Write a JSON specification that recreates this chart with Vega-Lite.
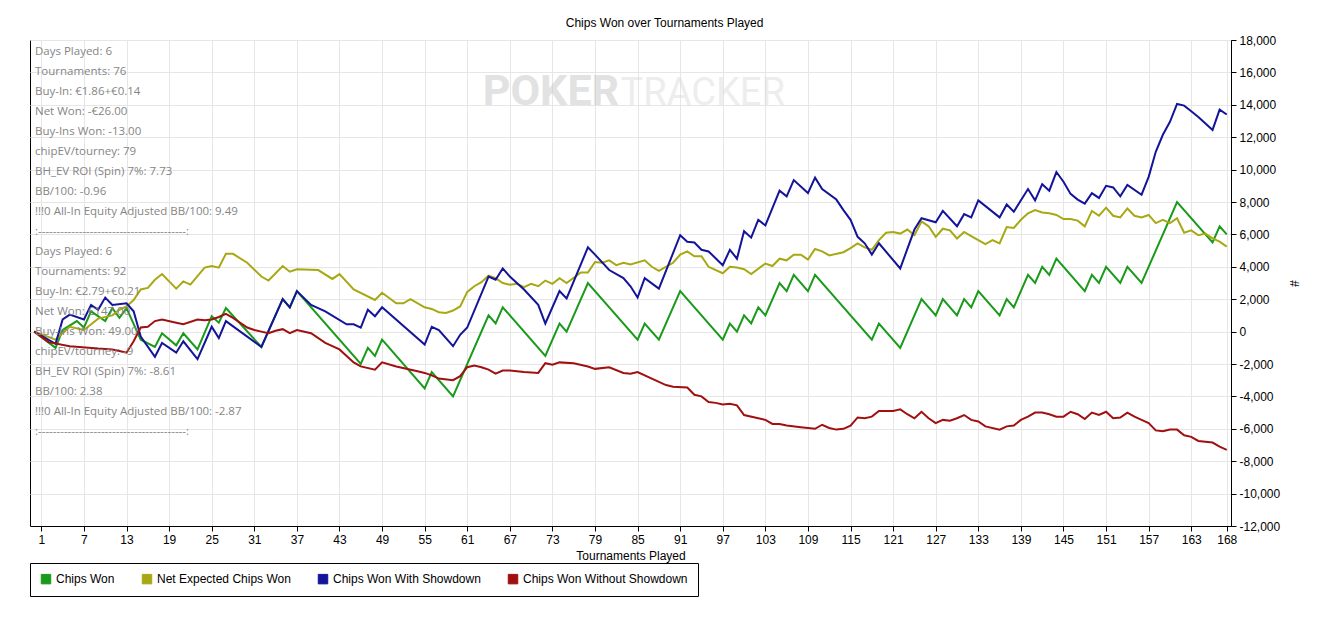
{
  "$schema": "https://vega.github.io/schema/vega-lite/v6.json",
  "title": {"text": "Chips Won over Tournaments Played", "fontSize": 12, "fontWeight": "normal", "font": "Liberation Sans", "color": "black", "frame": "bounds", "offset": 4},
  "width": 1201,
  "height": 486,
  "autosize": "none",
  "padding": {"left": 30, "top": 40, "right": 94, "bottom": 91},
  "background": "white",
  "config": {
    "view": {"stroke": "black", "strokeWidth": 1},
    "axis": {"domainColor": "black", "tickColor": "black", "labelColor": "black", "titleColor": "black", "labelFont": "Liberation Sans", "titleFont": "Liberation Sans", "labelFontSize": 12, "titleFontSize": 12, "titleFontWeight": "normal", "grid": true, "gridColor": "#e6e6e6", "tickSize": 5, "labelOverlap": false, "labelFlush": false}
  },
  "datasets": {
    "brand": [
      {"word": "POKER"},
      {"word": "TRACKER"}
    ],
    "notes": [
      {"line": 1, "text": "Days Played: 6"},
      {"line": 2, "text": "Tournaments: 76"},
      {"line": 3, "text": "Buy-In: €1.86+€0.14"},
      {"line": 4, "text": "Net Won: -€26.00"},
      {"line": 5, "text": "Buy-Ins Won: -13.00"},
      {"line": 6, "text": "chipEV/tourney: 79"},
      {"line": 7, "text": "BH_EV ROI (Spin) 7%: 7.73"},
      {"line": 8, "text": "BB/100: -0.96"},
      {"line": 9, "text": "!!!0 All-In Equity Adjusted BB/100: 9.49"},
      {"line": 10, "text": ":----------------------------------------:"},
      {"line": 11, "text": "Days Played: 6"},
      {"line": 12, "text": "Tournaments: 92"},
      {"line": 13, "text": "Buy-In: €2.79+€0.21"},
      {"line": 14, "text": "Net Won: €147.00"},
      {"line": 15, "text": "Buy-Ins Won: 49.00"},
      {"line": 16, "text": "chipEV/tourney: -9"},
      {"line": 17, "text": "BH_EV ROI (Spin) 7%: -8.61"},
      {"line": 18, "text": "BB/100: 2.38"},
      {"line": 19, "text": "!!!0 All-In Equity Adjusted BB/100: -2.87"},
      {"line": 20, "text": ":----------------------------------------:"}
    ],
    "chips": [
      {"tournament": 0, "series": "Chips Won", "chips": 0},
      {"tournament": 3, "series": "Chips Won", "chips": -1000},
      {"tournament": 4, "series": "Chips Won", "chips": 100},
      {"tournament": 6, "series": "Chips Won", "chips": 650},
      {"tournament": 7, "series": "Chips Won", "chips": 250},
      {"tournament": 8, "series": "Chips Won", "chips": 1250},
      {"tournament": 10, "series": "Chips Won", "chips": 650},
      {"tournament": 11, "series": "Chips Won", "chips": 1450},
      {"tournament": 12, "series": "Chips Won", "chips": 850},
      {"tournament": 13, "series": "Chips Won", "chips": 1450},
      {"tournament": 15, "series": "Chips Won", "chips": -500},
      {"tournament": 17, "series": "Chips Won", "chips": -950},
      {"tournament": 18, "series": "Chips Won", "chips": -100},
      {"tournament": 20, "series": "Chips Won", "chips": -850},
      {"tournament": 21, "series": "Chips Won", "chips": -100},
      {"tournament": 23, "series": "Chips Won", "chips": -1100},
      {"tournament": 25, "series": "Chips Won", "chips": 950},
      {"tournament": 26, "series": "Chips Won", "chips": 550},
      {"tournament": 27, "series": "Chips Won", "chips": 1450},
      {"tournament": 32, "series": "Chips Won", "chips": -950},
      {"tournament": 35, "series": "Chips Won", "chips": 2000},
      {"tournament": 36, "series": "Chips Won", "chips": 1500},
      {"tournament": 37, "series": "Chips Won", "chips": 2500},
      {"tournament": 46, "series": "Chips Won", "chips": -2000},
      {"tournament": 47, "series": "Chips Won", "chips": -1000},
      {"tournament": 48, "series": "Chips Won", "chips": -1500},
      {"tournament": 49, "series": "Chips Won", "chips": -500},
      {"tournament": 55, "series": "Chips Won", "chips": -3500},
      {"tournament": 56, "series": "Chips Won", "chips": -2500},
      {"tournament": 59, "series": "Chips Won", "chips": -4000},
      {"tournament": 64, "series": "Chips Won", "chips": 1000},
      {"tournament": 65, "series": "Chips Won", "chips": 500},
      {"tournament": 66, "series": "Chips Won", "chips": 1500},
      {"tournament": 72, "series": "Chips Won", "chips": -1500},
      {"tournament": 74, "series": "Chips Won", "chips": 500},
      {"tournament": 75, "series": "Chips Won", "chips": 0},
      {"tournament": 78, "series": "Chips Won", "chips": 3000},
      {"tournament": 85, "series": "Chips Won", "chips": -500},
      {"tournament": 86, "series": "Chips Won", "chips": 500},
      {"tournament": 88, "series": "Chips Won", "chips": -500},
      {"tournament": 91, "series": "Chips Won", "chips": 2500},
      {"tournament": 97, "series": "Chips Won", "chips": -500},
      {"tournament": 98, "series": "Chips Won", "chips": 500},
      {"tournament": 99, "series": "Chips Won", "chips": 0},
      {"tournament": 100, "series": "Chips Won", "chips": 1000},
      {"tournament": 101, "series": "Chips Won", "chips": 500},
      {"tournament": 102, "series": "Chips Won", "chips": 1500},
      {"tournament": 103, "series": "Chips Won", "chips": 1000},
      {"tournament": 105, "series": "Chips Won", "chips": 3000},
      {"tournament": 106, "series": "Chips Won", "chips": 2500},
      {"tournament": 107, "series": "Chips Won", "chips": 3500},
      {"tournament": 109, "series": "Chips Won", "chips": 2500},
      {"tournament": 110, "series": "Chips Won", "chips": 3500},
      {"tournament": 118, "series": "Chips Won", "chips": -500},
      {"tournament": 119, "series": "Chips Won", "chips": 500},
      {"tournament": 122, "series": "Chips Won", "chips": -1000},
      {"tournament": 125, "series": "Chips Won", "chips": 2000},
      {"tournament": 127, "series": "Chips Won", "chips": 1000},
      {"tournament": 128, "series": "Chips Won", "chips": 2000},
      {"tournament": 130, "series": "Chips Won", "chips": 1000},
      {"tournament": 131, "series": "Chips Won", "chips": 2000},
      {"tournament": 132, "series": "Chips Won", "chips": 1500},
      {"tournament": 133, "series": "Chips Won", "chips": 2500},
      {"tournament": 136, "series": "Chips Won", "chips": 1000},
      {"tournament": 137, "series": "Chips Won", "chips": 2000},
      {"tournament": 138, "series": "Chips Won", "chips": 1500},
      {"tournament": 140, "series": "Chips Won", "chips": 3500},
      {"tournament": 141, "series": "Chips Won", "chips": 3000},
      {"tournament": 142, "series": "Chips Won", "chips": 4000},
      {"tournament": 143, "series": "Chips Won", "chips": 3500},
      {"tournament": 144, "series": "Chips Won", "chips": 4500},
      {"tournament": 148, "series": "Chips Won", "chips": 2500},
      {"tournament": 149, "series": "Chips Won", "chips": 3500},
      {"tournament": 150, "series": "Chips Won", "chips": 3000},
      {"tournament": 151, "series": "Chips Won", "chips": 4000},
      {"tournament": 153, "series": "Chips Won", "chips": 3000},
      {"tournament": 154, "series": "Chips Won", "chips": 4000},
      {"tournament": 156, "series": "Chips Won", "chips": 3000},
      {"tournament": 161, "series": "Chips Won", "chips": 8000},
      {"tournament": 166, "series": "Chips Won", "chips": 5500},
      {"tournament": 167, "series": "Chips Won", "chips": 6500},
      {"tournament": 168, "series": "Chips Won", "chips": 6000},

      {"tournament": 0, "series": "Net Expected Chips Won", "chips": 0},
      {"tournament": 3, "series": "Net Expected Chips Won", "chips": -500},
      {"tournament": 5, "series": "Net Expected Chips Won", "chips": 300},
      {"tournament": 7, "series": "Net Expected Chips Won", "chips": 100},
      {"tournament": 9, "series": "Net Expected Chips Won", "chips": 800},
      {"tournament": 11, "series": "Net Expected Chips Won", "chips": 1000},
      {"tournament": 12, "series": "Net Expected Chips Won", "chips": 1350},
      {"tournament": 13, "series": "Net Expected Chips Won", "chips": 1550},
      {"tournament": 14, "series": "Net Expected Chips Won", "chips": 1950},
      {"tournament": 15, "series": "Net Expected Chips Won", "chips": 2600},
      {"tournament": 16, "series": "Net Expected Chips Won", "chips": 2700},
      {"tournament": 17, "series": "Net Expected Chips Won", "chips": 3200},
      {"tournament": 18, "series": "Net Expected Chips Won", "chips": 3550},
      {"tournament": 20, "series": "Net Expected Chips Won", "chips": 2650},
      {"tournament": 21, "series": "Net Expected Chips Won", "chips": 3100},
      {"tournament": 22, "series": "Net Expected Chips Won", "chips": 2900},
      {"tournament": 24, "series": "Net Expected Chips Won", "chips": 3950},
      {"tournament": 25, "series": "Net Expected Chips Won", "chips": 4050},
      {"tournament": 26, "series": "Net Expected Chips Won", "chips": 3950},
      {"tournament": 27, "series": "Net Expected Chips Won", "chips": 4800},
      {"tournament": 28, "series": "Net Expected Chips Won", "chips": 4800},
      {"tournament": 30, "series": "Net Expected Chips Won", "chips": 4250},
      {"tournament": 32, "series": "Net Expected Chips Won", "chips": 3400},
      {"tournament": 33, "series": "Net Expected Chips Won", "chips": 3150},
      {"tournament": 35, "series": "Net Expected Chips Won", "chips": 4050},
      {"tournament": 36, "series": "Net Expected Chips Won", "chips": 3700},
      {"tournament": 37, "series": "Net Expected Chips Won", "chips": 3850},
      {"tournament": 40, "series": "Net Expected Chips Won", "chips": 3800},
      {"tournament": 42, "series": "Net Expected Chips Won", "chips": 3250},
      {"tournament": 43, "series": "Net Expected Chips Won", "chips": 3550},
      {"tournament": 45, "series": "Net Expected Chips Won", "chips": 2600},
      {"tournament": 48, "series": "Net Expected Chips Won", "chips": 1950},
      {"tournament": 49, "series": "Net Expected Chips Won", "chips": 2400},
      {"tournament": 51, "series": "Net Expected Chips Won", "chips": 1750},
      {"tournament": 52, "series": "Net Expected Chips Won", "chips": 1750},
      {"tournament": 53, "series": "Net Expected Chips Won", "chips": 2000},
      {"tournament": 55, "series": "Net Expected Chips Won", "chips": 1500},
      {"tournament": 56, "series": "Net Expected Chips Won", "chips": 1400},
      {"tournament": 57, "series": "Net Expected Chips Won", "chips": 1200},
      {"tournament": 58, "series": "Net Expected Chips Won", "chips": 1150},
      {"tournament": 59, "series": "Net Expected Chips Won", "chips": 1300},
      {"tournament": 60, "series": "Net Expected Chips Won", "chips": 1550},
      {"tournament": 61, "series": "Net Expected Chips Won", "chips": 2450},
      {"tournament": 62, "series": "Net Expected Chips Won", "chips": 2800},
      {"tournament": 63, "series": "Net Expected Chips Won", "chips": 3050},
      {"tournament": 64, "series": "Net Expected Chips Won", "chips": 3450},
      {"tournament": 65, "series": "Net Expected Chips Won", "chips": 3300},
      {"tournament": 66, "series": "Net Expected Chips Won", "chips": 3000},
      {"tournament": 67, "series": "Net Expected Chips Won", "chips": 2900},
      {"tournament": 68, "series": "Net Expected Chips Won", "chips": 2950},
      {"tournament": 69, "series": "Net Expected Chips Won", "chips": 2750},
      {"tournament": 70, "series": "Net Expected Chips Won", "chips": 2950},
      {"tournament": 71, "series": "Net Expected Chips Won", "chips": 2800},
      {"tournament": 72, "series": "Net Expected Chips Won", "chips": 3150},
      {"tournament": 73, "series": "Net Expected Chips Won", "chips": 2950},
      {"tournament": 74, "series": "Net Expected Chips Won", "chips": 3300},
      {"tournament": 75, "series": "Net Expected Chips Won", "chips": 3000},
      {"tournament": 77, "series": "Net Expected Chips Won", "chips": 3650},
      {"tournament": 78, "series": "Net Expected Chips Won", "chips": 3650},
      {"tournament": 79, "series": "Net Expected Chips Won", "chips": 4300},
      {"tournament": 80, "series": "Net Expected Chips Won", "chips": 4250},
      {"tournament": 81, "series": "Net Expected Chips Won", "chips": 4400},
      {"tournament": 82, "series": "Net Expected Chips Won", "chips": 4100},
      {"tournament": 83, "series": "Net Expected Chips Won", "chips": 4250},
      {"tournament": 84, "series": "Net Expected Chips Won", "chips": 4150},
      {"tournament": 86, "series": "Net Expected Chips Won", "chips": 4400},
      {"tournament": 87, "series": "Net Expected Chips Won", "chips": 4000},
      {"tournament": 88, "series": "Net Expected Chips Won", "chips": 3750},
      {"tournament": 90, "series": "Net Expected Chips Won", "chips": 4250},
      {"tournament": 91, "series": "Net Expected Chips Won", "chips": 4750},
      {"tournament": 92, "series": "Net Expected Chips Won", "chips": 4950},
      {"tournament": 93, "series": "Net Expected Chips Won", "chips": 4650},
      {"tournament": 94, "series": "Net Expected Chips Won", "chips": 4650},
      {"tournament": 95, "series": "Net Expected Chips Won", "chips": 4000},
      {"tournament": 97, "series": "Net Expected Chips Won", "chips": 3600},
      {"tournament": 98, "series": "Net Expected Chips Won", "chips": 4000},
      {"tournament": 99, "series": "Net Expected Chips Won", "chips": 3950},
      {"tournament": 100, "series": "Net Expected Chips Won", "chips": 3850},
      {"tournament": 101, "series": "Net Expected Chips Won", "chips": 3550},
      {"tournament": 103, "series": "Net Expected Chips Won", "chips": 4200},
      {"tournament": 104, "series": "Net Expected Chips Won", "chips": 4050},
      {"tournament": 105, "series": "Net Expected Chips Won", "chips": 4500},
      {"tournament": 106, "series": "Net Expected Chips Won", "chips": 4400},
      {"tournament": 107, "series": "Net Expected Chips Won", "chips": 4750},
      {"tournament": 108, "series": "Net Expected Chips Won", "chips": 4750},
      {"tournament": 109, "series": "Net Expected Chips Won", "chips": 4450},
      {"tournament": 110, "series": "Net Expected Chips Won", "chips": 5100},
      {"tournament": 111, "series": "Net Expected Chips Won", "chips": 4950},
      {"tournament": 112, "series": "Net Expected Chips Won", "chips": 4700},
      {"tournament": 114, "series": "Net Expected Chips Won", "chips": 4900},
      {"tournament": 115, "series": "Net Expected Chips Won", "chips": 5150},
      {"tournament": 116, "series": "Net Expected Chips Won", "chips": 5450},
      {"tournament": 117, "series": "Net Expected Chips Won", "chips": 5200},
      {"tournament": 118, "series": "Net Expected Chips Won", "chips": 5050},
      {"tournament": 119, "series": "Net Expected Chips Won", "chips": 5650},
      {"tournament": 120, "series": "Net Expected Chips Won", "chips": 6100},
      {"tournament": 121, "series": "Net Expected Chips Won", "chips": 6150},
      {"tournament": 122, "series": "Net Expected Chips Won", "chips": 6050},
      {"tournament": 123, "series": "Net Expected Chips Won", "chips": 6300},
      {"tournament": 124, "series": "Net Expected Chips Won", "chips": 5950},
      {"tournament": 125, "series": "Net Expected Chips Won", "chips": 6800},
      {"tournament": 126, "series": "Net Expected Chips Won", "chips": 6500},
      {"tournament": 127, "series": "Net Expected Chips Won", "chips": 5850},
      {"tournament": 128, "series": "Net Expected Chips Won", "chips": 6350},
      {"tournament": 129, "series": "Net Expected Chips Won", "chips": 6250},
      {"tournament": 130, "series": "Net Expected Chips Won", "chips": 5750},
      {"tournament": 131, "series": "Net Expected Chips Won", "chips": 6150},
      {"tournament": 132, "series": "Net Expected Chips Won", "chips": 5900},
      {"tournament": 133, "series": "Net Expected Chips Won", "chips": 5650},
      {"tournament": 134, "series": "Net Expected Chips Won", "chips": 5400},
      {"tournament": 135, "series": "Net Expected Chips Won", "chips": 5650},
      {"tournament": 136, "series": "Net Expected Chips Won", "chips": 5450},
      {"tournament": 137, "series": "Net Expected Chips Won", "chips": 6450},
      {"tournament": 138, "series": "Net Expected Chips Won", "chips": 6400},
      {"tournament": 139, "series": "Net Expected Chips Won", "chips": 6900},
      {"tournament": 140, "series": "Net Expected Chips Won", "chips": 7300},
      {"tournament": 141, "series": "Net Expected Chips Won", "chips": 7500},
      {"tournament": 142, "series": "Net Expected Chips Won", "chips": 7350},
      {"tournament": 143, "series": "Net Expected Chips Won", "chips": 7300},
      {"tournament": 144, "series": "Net Expected Chips Won", "chips": 7200},
      {"tournament": 145, "series": "Net Expected Chips Won", "chips": 6950},
      {"tournament": 146, "series": "Net Expected Chips Won", "chips": 6950},
      {"tournament": 147, "series": "Net Expected Chips Won", "chips": 6850},
      {"tournament": 148, "series": "Net Expected Chips Won", "chips": 6500},
      {"tournament": 149, "series": "Net Expected Chips Won", "chips": 7450},
      {"tournament": 150, "series": "Net Expected Chips Won", "chips": 7150},
      {"tournament": 151, "series": "Net Expected Chips Won", "chips": 7650},
      {"tournament": 152, "series": "Net Expected Chips Won", "chips": 7150},
      {"tournament": 153, "series": "Net Expected Chips Won", "chips": 7050},
      {"tournament": 154, "series": "Net Expected Chips Won", "chips": 7600},
      {"tournament": 155, "series": "Net Expected Chips Won", "chips": 7150},
      {"tournament": 156, "series": "Net Expected Chips Won", "chips": 7050},
      {"tournament": 157, "series": "Net Expected Chips Won", "chips": 7200},
      {"tournament": 158, "series": "Net Expected Chips Won", "chips": 6700},
      {"tournament": 159, "series": "Net Expected Chips Won", "chips": 6900},
      {"tournament": 160, "series": "Net Expected Chips Won", "chips": 6700},
      {"tournament": 161, "series": "Net Expected Chips Won", "chips": 7000},
      {"tournament": 162, "series": "Net Expected Chips Won", "chips": 6100},
      {"tournament": 163, "series": "Net Expected Chips Won", "chips": 6250},
      {"tournament": 164, "series": "Net Expected Chips Won", "chips": 5950},
      {"tournament": 165, "series": "Net Expected Chips Won", "chips": 6050},
      {"tournament": 166, "series": "Net Expected Chips Won", "chips": 5750},
      {"tournament": 167, "series": "Net Expected Chips Won", "chips": 5550},
      {"tournament": 168, "series": "Net Expected Chips Won", "chips": 5250},

      {"tournament": 0, "series": "Chips Won With Showdown", "chips": 0},
      {"tournament": 3, "series": "Chips Won With Showdown", "chips": -750},
      {"tournament": 4, "series": "Chips Won With Showdown", "chips": 750},
      {"tournament": 5, "series": "Chips Won With Showdown", "chips": 1050},
      {"tournament": 7, "series": "Chips Won With Showdown", "chips": 750},
      {"tournament": 8, "series": "Chips Won With Showdown", "chips": 1650},
      {"tournament": 9, "series": "Chips Won With Showdown", "chips": 1350},
      {"tournament": 10, "series": "Chips Won With Showdown", "chips": 2100},
      {"tournament": 11, "series": "Chips Won With Showdown", "chips": 1650},
      {"tournament": 13, "series": "Chips Won With Showdown", "chips": 1750},
      {"tournament": 14, "series": "Chips Won With Showdown", "chips": 1250},
      {"tournament": 15, "series": "Chips Won With Showdown", "chips": -300},
      {"tournament": 17, "series": "Chips Won With Showdown", "chips": -1550},
      {"tournament": 18, "series": "Chips Won With Showdown", "chips": -700},
      {"tournament": 20, "series": "Chips Won With Showdown", "chips": -1300},
      {"tournament": 21, "series": "Chips Won With Showdown", "chips": -600},
      {"tournament": 23, "series": "Chips Won With Showdown", "chips": -1700},
      {"tournament": 25, "series": "Chips Won With Showdown", "chips": 300},
      {"tournament": 26, "series": "Chips Won With Showdown", "chips": -400},
      {"tournament": 27, "series": "Chips Won With Showdown", "chips": 650},
      {"tournament": 32, "series": "Chips Won With Showdown", "chips": -950},
      {"tournament": 35, "series": "Chips Won With Showdown", "chips": 2000},
      {"tournament": 36, "series": "Chips Won With Showdown", "chips": 1500},
      {"tournament": 37, "series": "Chips Won With Showdown", "chips": 2500},
      {"tournament": 39, "series": "Chips Won With Showdown", "chips": 1650},
      {"tournament": 41, "series": "Chips Won With Showdown", "chips": 1250},
      {"tournament": 44, "series": "Chips Won With Showdown", "chips": 450},
      {"tournament": 45, "series": "Chips Won With Showdown", "chips": 450},
      {"tournament": 46, "series": "Chips Won With Showdown", "chips": 250},
      {"tournament": 47, "series": "Chips Won With Showdown", "chips": 1350},
      {"tournament": 48, "series": "Chips Won With Showdown", "chips": 950},
      {"tournament": 49, "series": "Chips Won With Showdown", "chips": 1500},
      {"tournament": 55, "series": "Chips Won With Showdown", "chips": -800},
      {"tournament": 56, "series": "Chips Won With Showdown", "chips": 300},
      {"tournament": 57, "series": "Chips Won With Showdown", "chips": 100},
      {"tournament": 59, "series": "Chips Won With Showdown", "chips": -900},
      {"tournament": 60, "series": "Chips Won With Showdown", "chips": -200},
      {"tournament": 61, "series": "Chips Won With Showdown", "chips": 250},
      {"tournament": 64, "series": "Chips Won With Showdown", "chips": 3400},
      {"tournament": 65, "series": "Chips Won With Showdown", "chips": 3200},
      {"tournament": 66, "series": "Chips Won With Showdown", "chips": 3900},
      {"tournament": 67, "series": "Chips Won With Showdown", "chips": 3400},
      {"tournament": 69, "series": "Chips Won With Showdown", "chips": 2600},
      {"tournament": 71, "series": "Chips Won With Showdown", "chips": 1650},
      {"tournament": 72, "series": "Chips Won With Showdown", "chips": 500},
      {"tournament": 74, "series": "Chips Won With Showdown", "chips": 2500},
      {"tournament": 75, "series": "Chips Won With Showdown", "chips": 2050},
      {"tournament": 78, "series": "Chips Won With Showdown", "chips": 5200},
      {"tournament": 79, "series": "Chips Won With Showdown", "chips": 4750},
      {"tournament": 81, "series": "Chips Won With Showdown", "chips": 3800},
      {"tournament": 83, "series": "Chips Won With Showdown", "chips": 3300},
      {"tournament": 84, "series": "Chips Won With Showdown", "chips": 2800},
      {"tournament": 85, "series": "Chips Won With Showdown", "chips": 2100},
      {"tournament": 86, "series": "Chips Won With Showdown", "chips": 3300},
      {"tournament": 88, "series": "Chips Won With Showdown", "chips": 2650},
      {"tournament": 91, "series": "Chips Won With Showdown", "chips": 5950},
      {"tournament": 92, "series": "Chips Won With Showdown", "chips": 5550},
      {"tournament": 93, "series": "Chips Won With Showdown", "chips": 5500},
      {"tournament": 94, "series": "Chips Won With Showdown", "chips": 5050},
      {"tournament": 95, "series": "Chips Won With Showdown", "chips": 4950},
      {"tournament": 97, "series": "Chips Won With Showdown", "chips": 4100},
      {"tournament": 98, "series": "Chips Won With Showdown", "chips": 5050},
      {"tournament": 99, "series": "Chips Won With Showdown", "chips": 4500},
      {"tournament": 100, "series": "Chips Won With Showdown", "chips": 6200},
      {"tournament": 101, "series": "Chips Won With Showdown", "chips": 5800},
      {"tournament": 102, "series": "Chips Won With Showdown", "chips": 6900},
      {"tournament": 103, "series": "Chips Won With Showdown", "chips": 6550},
      {"tournament": 105, "series": "Chips Won With Showdown", "chips": 8700},
      {"tournament": 106, "series": "Chips Won With Showdown", "chips": 8350},
      {"tournament": 107, "series": "Chips Won With Showdown", "chips": 9350},
      {"tournament": 109, "series": "Chips Won With Showdown", "chips": 8550},
      {"tournament": 110, "series": "Chips Won With Showdown", "chips": 9500},
      {"tournament": 111, "series": "Chips Won With Showdown", "chips": 8800},
      {"tournament": 113, "series": "Chips Won With Showdown", "chips": 8150},
      {"tournament": 114, "series": "Chips Won With Showdown", "chips": 7500},
      {"tournament": 115, "series": "Chips Won With Showdown", "chips": 6900},
      {"tournament": 116, "series": "Chips Won With Showdown", "chips": 5850},
      {"tournament": 117, "series": "Chips Won With Showdown", "chips": 5450},
      {"tournament": 118, "series": "Chips Won With Showdown", "chips": 4750},
      {"tournament": 119, "series": "Chips Won With Showdown", "chips": 5450},
      {"tournament": 122, "series": "Chips Won With Showdown", "chips": 3900},
      {"tournament": 124, "series": "Chips Won With Showdown", "chips": 6300},
      {"tournament": 125, "series": "Chips Won With Showdown", "chips": 7000},
      {"tournament": 127, "series": "Chips Won With Showdown", "chips": 6750},
      {"tournament": 128, "series": "Chips Won With Showdown", "chips": 7450},
      {"tournament": 130, "series": "Chips Won With Showdown", "chips": 6500},
      {"tournament": 131, "series": "Chips Won With Showdown", "chips": 7250},
      {"tournament": 132, "series": "Chips Won With Showdown", "chips": 7050},
      {"tournament": 133, "series": "Chips Won With Showdown", "chips": 8100},
      {"tournament": 136, "series": "Chips Won With Showdown", "chips": 7050},
      {"tournament": 137, "series": "Chips Won With Showdown", "chips": 7850},
      {"tournament": 138, "series": "Chips Won With Showdown", "chips": 7400},
      {"tournament": 140, "series": "Chips Won With Showdown", "chips": 8800},
      {"tournament": 141, "series": "Chips Won With Showdown", "chips": 8100},
      {"tournament": 142, "series": "Chips Won With Showdown", "chips": 9100},
      {"tournament": 143, "series": "Chips Won With Showdown", "chips": 8700},
      {"tournament": 144, "series": "Chips Won With Showdown", "chips": 9850},
      {"tournament": 145, "series": "Chips Won With Showdown", "chips": 9250},
      {"tournament": 146, "series": "Chips Won With Showdown", "chips": 8500},
      {"tournament": 147, "series": "Chips Won With Showdown", "chips": 8150},
      {"tournament": 148, "series": "Chips Won With Showdown", "chips": 7900},
      {"tournament": 149, "series": "Chips Won With Showdown", "chips": 8550},
      {"tournament": 150, "series": "Chips Won With Showdown", "chips": 8250},
      {"tournament": 151, "series": "Chips Won With Showdown", "chips": 9000},
      {"tournament": 152, "series": "Chips Won With Showdown", "chips": 8900},
      {"tournament": 153, "series": "Chips Won With Showdown", "chips": 8350},
      {"tournament": 154, "series": "Chips Won With Showdown", "chips": 9050},
      {"tournament": 156, "series": "Chips Won With Showdown", "chips": 8450},
      {"tournament": 157, "series": "Chips Won With Showdown", "chips": 9550},
      {"tournament": 158, "series": "Chips Won With Showdown", "chips": 11100},
      {"tournament": 159, "series": "Chips Won With Showdown", "chips": 12150},
      {"tournament": 160, "series": "Chips Won With Showdown", "chips": 12950},
      {"tournament": 161, "series": "Chips Won With Showdown", "chips": 14050},
      {"tournament": 162, "series": "Chips Won With Showdown", "chips": 13950},
      {"tournament": 163, "series": "Chips Won With Showdown", "chips": 13600},
      {"tournament": 164, "series": "Chips Won With Showdown", "chips": 13250},
      {"tournament": 166, "series": "Chips Won With Showdown", "chips": 12450},
      {"tournament": 167, "series": "Chips Won With Showdown", "chips": 13700},
      {"tournament": 168, "series": "Chips Won With Showdown", "chips": 13400},

      {"tournament": 0, "series": "Chips Won Without Showdown", "chips": 0},
      {"tournament": 2, "series": "Chips Won Without Showdown", "chips": -650},
      {"tournament": 5, "series": "Chips Won Without Showdown", "chips": -900},
      {"tournament": 9, "series": "Chips Won Without Showdown", "chips": -1050},
      {"tournament": 11, "series": "Chips Won Without Showdown", "chips": -1100},
      {"tournament": 12, "series": "Chips Won Without Showdown", "chips": -1200},
      {"tournament": 13, "series": "Chips Won Without Showdown", "chips": -1300},
      {"tournament": 14, "series": "Chips Won Without Showdown", "chips": -600},
      {"tournament": 15, "series": "Chips Won Without Showdown", "chips": 250},
      {"tournament": 16, "series": "Chips Won Without Showdown", "chips": 300},
      {"tournament": 17, "series": "Chips Won Without Showdown", "chips": 650},
      {"tournament": 18, "series": "Chips Won Without Showdown", "chips": 750},
      {"tournament": 20, "series": "Chips Won Without Showdown", "chips": 550},
      {"tournament": 21, "series": "Chips Won Without Showdown", "chips": 450},
      {"tournament": 23, "series": "Chips Won Without Showdown", "chips": 750},
      {"tournament": 24, "series": "Chips Won Without Showdown", "chips": 700},
      {"tournament": 25, "series": "Chips Won Without Showdown", "chips": 750},
      {"tournament": 26, "series": "Chips Won Without Showdown", "chips": 900},
      {"tournament": 27, "series": "Chips Won Without Showdown", "chips": 1100},
      {"tournament": 28, "series": "Chips Won Without Showdown", "chips": 850},
      {"tournament": 30, "series": "Chips Won Without Showdown", "chips": 250},
      {"tournament": 31, "series": "Chips Won Without Showdown", "chips": 100},
      {"tournament": 32, "series": "Chips Won Without Showdown", "chips": 0},
      {"tournament": 33, "series": "Chips Won Without Showdown", "chips": -100},
      {"tournament": 34, "series": "Chips Won Without Showdown", "chips": 50},
      {"tournament": 35, "series": "Chips Won Without Showdown", "chips": 150},
      {"tournament": 36, "series": "Chips Won Without Showdown", "chips": -100},
      {"tournament": 37, "series": "Chips Won Without Showdown", "chips": 100},
      {"tournament": 39, "series": "Chips Won Without Showdown", "chips": -100},
      {"tournament": 41, "series": "Chips Won Without Showdown", "chips": -700},
      {"tournament": 43, "series": "Chips Won Without Showdown", "chips": -1100},
      {"tournament": 45, "series": "Chips Won Without Showdown", "chips": -1900},
      {"tournament": 46, "series": "Chips Won Without Showdown", "chips": -2150},
      {"tournament": 48, "series": "Chips Won Without Showdown", "chips": -2350},
      {"tournament": 49, "series": "Chips Won Without Showdown", "chips": -1900},
      {"tournament": 51, "series": "Chips Won Without Showdown", "chips": -2150},
      {"tournament": 54, "series": "Chips Won Without Showdown", "chips": -2450},
      {"tournament": 55, "series": "Chips Won Without Showdown", "chips": -2550},
      {"tournament": 56, "series": "Chips Won Without Showdown", "chips": -2700},
      {"tournament": 57, "series": "Chips Won Without Showdown", "chips": -2900},
      {"tournament": 59, "series": "Chips Won Without Showdown", "chips": -3000},
      {"tournament": 60, "series": "Chips Won Without Showdown", "chips": -2750},
      {"tournament": 61, "series": "Chips Won Without Showdown", "chips": -2200},
      {"tournament": 62, "series": "Chips Won Without Showdown", "chips": -2100},
      {"tournament": 63, "series": "Chips Won Without Showdown", "chips": -2200},
      {"tournament": 64, "series": "Chips Won Without Showdown", "chips": -2350},
      {"tournament": 65, "series": "Chips Won Without Showdown", "chips": -2600},
      {"tournament": 66, "series": "Chips Won Without Showdown", "chips": -2400},
      {"tournament": 67, "series": "Chips Won Without Showdown", "chips": -2400},
      {"tournament": 69, "series": "Chips Won Without Showdown", "chips": -2500},
      {"tournament": 71, "series": "Chips Won Without Showdown", "chips": -2550},
      {"tournament": 72, "series": "Chips Won Without Showdown", "chips": -1950},
      {"tournament": 73, "series": "Chips Won Without Showdown", "chips": -2050},
      {"tournament": 74, "series": "Chips Won Without Showdown", "chips": -1900},
      {"tournament": 76, "series": "Chips Won Without Showdown", "chips": -1950},
      {"tournament": 78, "series": "Chips Won Without Showdown", "chips": -2150},
      {"tournament": 79, "series": "Chips Won Without Showdown", "chips": -2300},
      {"tournament": 81, "series": "Chips Won Without Showdown", "chips": -2200},
      {"tournament": 83, "series": "Chips Won Without Showdown", "chips": -2550},
      {"tournament": 84, "series": "Chips Won Without Showdown", "chips": -2600},
      {"tournament": 85, "series": "Chips Won Without Showdown", "chips": -2500},
      {"tournament": 87, "series": "Chips Won Without Showdown", "chips": -2900},
      {"tournament": 89, "series": "Chips Won Without Showdown", "chips": -3300},
      {"tournament": 90, "series": "Chips Won Without Showdown", "chips": -3400},
      {"tournament": 92, "series": "Chips Won Without Showdown", "chips": -3450},
      {"tournament": 93, "series": "Chips Won Without Showdown", "chips": -3900},
      {"tournament": 94, "series": "Chips Won Without Showdown", "chips": -4000},
      {"tournament": 95, "series": "Chips Won Without Showdown", "chips": -4350},
      {"tournament": 96, "series": "Chips Won Without Showdown", "chips": -4400},
      {"tournament": 97, "series": "Chips Won Without Showdown", "chips": -4500},
      {"tournament": 98, "series": "Chips Won Without Showdown", "chips": -4450},
      {"tournament": 99, "series": "Chips Won Without Showdown", "chips": -4550},
      {"tournament": 100, "series": "Chips Won Without Showdown", "chips": -5150},
      {"tournament": 102, "series": "Chips Won Without Showdown", "chips": -5350},
      {"tournament": 103, "series": "Chips Won Without Showdown", "chips": -5450},
      {"tournament": 104, "series": "Chips Won Without Showdown", "chips": -5700},
      {"tournament": 105, "series": "Chips Won Without Showdown", "chips": -5700},
      {"tournament": 106, "series": "Chips Won Without Showdown", "chips": -5800},
      {"tournament": 108, "series": "Chips Won Without Showdown", "chips": -5900},
      {"tournament": 110, "series": "Chips Won Without Showdown", "chips": -6000},
      {"tournament": 111, "series": "Chips Won Without Showdown", "chips": -5750},
      {"tournament": 112, "series": "Chips Won Without Showdown", "chips": -5950},
      {"tournament": 113, "series": "Chips Won Without Showdown", "chips": -6050},
      {"tournament": 114, "series": "Chips Won Without Showdown", "chips": -6000},
      {"tournament": 115, "series": "Chips Won Without Showdown", "chips": -5800},
      {"tournament": 116, "series": "Chips Won Without Showdown", "chips": -5300},
      {"tournament": 117, "series": "Chips Won Without Showdown", "chips": -5350},
      {"tournament": 118, "series": "Chips Won Without Showdown", "chips": -5250},
      {"tournament": 119, "series": "Chips Won Without Showdown", "chips": -4900},
      {"tournament": 121, "series": "Chips Won Without Showdown", "chips": -4900},
      {"tournament": 122, "series": "Chips Won Without Showdown", "chips": -4800},
      {"tournament": 123, "series": "Chips Won Without Showdown", "chips": -5100},
      {"tournament": 124, "series": "Chips Won Without Showdown", "chips": -5350},
      {"tournament": 125, "series": "Chips Won Without Showdown", "chips": -4950},
      {"tournament": 126, "series": "Chips Won Without Showdown", "chips": -5350},
      {"tournament": 127, "series": "Chips Won Without Showdown", "chips": -5650},
      {"tournament": 128, "series": "Chips Won Without Showdown", "chips": -5450},
      {"tournament": 129, "series": "Chips Won Without Showdown", "chips": -5500},
      {"tournament": 130, "series": "Chips Won Without Showdown", "chips": -5350},
      {"tournament": 131, "series": "Chips Won Without Showdown", "chips": -5150},
      {"tournament": 132, "series": "Chips Won Without Showdown", "chips": -5450},
      {"tournament": 133, "series": "Chips Won Without Showdown", "chips": -5550},
      {"tournament": 134, "series": "Chips Won Without Showdown", "chips": -5850},
      {"tournament": 136, "series": "Chips Won Without Showdown", "chips": -6050},
      {"tournament": 137, "series": "Chips Won Without Showdown", "chips": -5850},
      {"tournament": 138, "series": "Chips Won Without Showdown", "chips": -5800},
      {"tournament": 139, "series": "Chips Won Without Showdown", "chips": -5450},
      {"tournament": 140, "series": "Chips Won Without Showdown", "chips": -5250},
      {"tournament": 141, "series": "Chips Won Without Showdown", "chips": -5000},
      {"tournament": 142, "series": "Chips Won Without Showdown", "chips": -5000},
      {"tournament": 143, "series": "Chips Won Without Showdown", "chips": -5100},
      {"tournament": 144, "series": "Chips Won Without Showdown", "chips": -5250},
      {"tournament": 145, "series": "Chips Won Without Showdown", "chips": -5250},
      {"tournament": 146, "series": "Chips Won Without Showdown", "chips": -4950},
      {"tournament": 147, "series": "Chips Won Without Showdown", "chips": -5100},
      {"tournament": 148, "series": "Chips Won Without Showdown", "chips": -5400},
      {"tournament": 149, "series": "Chips Won Without Showdown", "chips": -5000},
      {"tournament": 150, "series": "Chips Won Without Showdown", "chips": -5150},
      {"tournament": 151, "series": "Chips Won Without Showdown", "chips": -4950},
      {"tournament": 152, "series": "Chips Won Without Showdown", "chips": -5350},
      {"tournament": 153, "series": "Chips Won Without Showdown", "chips": -5300},
      {"tournament": 154, "series": "Chips Won Without Showdown", "chips": -5000},
      {"tournament": 155, "series": "Chips Won Without Showdown", "chips": -5250},
      {"tournament": 156, "series": "Chips Won Without Showdown", "chips": -5450},
      {"tournament": 157, "series": "Chips Won Without Showdown", "chips": -5650},
      {"tournament": 158, "series": "Chips Won Without Showdown", "chips": -6100},
      {"tournament": 159, "series": "Chips Won Without Showdown", "chips": -6150},
      {"tournament": 160, "series": "Chips Won Without Showdown", "chips": -6050},
      {"tournament": 161, "series": "Chips Won Without Showdown", "chips": -6050},
      {"tournament": 162, "series": "Chips Won Without Showdown", "chips": -6400},
      {"tournament": 163, "series": "Chips Won Without Showdown", "chips": -6500},
      {"tournament": 164, "series": "Chips Won Without Showdown", "chips": -6750},
      {"tournament": 166, "series": "Chips Won Without Showdown", "chips": -6850},
      {"tournament": 167, "series": "Chips Won Without Showdown", "chips": -7100},
      {"tournament": 168, "series": "Chips Won Without Showdown", "chips": -7300}
    ]
  },
  "layer": [
    {
      "layer": [
        {
          "data": {"name": "brand"},
          "transform": [{"filter": "datum.word == 'POKER'"}],
          "mark": {"type": "text", "font": "Roboto", "fontSize": 43, "fontWeight": "bold", "align": "right", "baseline": "alphabetic", "color": "#c6c6c6", "opacity": 0.5},
          "encoding": {"x": {"datum": 82.4}, "y": {"datum": 14010}, "text": {"field": "word"}}
        },
        {
          "data": {"name": "brand"},
          "transform": [{"filter": "datum.word == 'TRACKER'"}],
          "mark": {"type": "text", "font": "Roboto", "fontSize": 38, "align": "left", "baseline": "alphabetic", "color": "#dcdcdc", "opacity": 0.5},
          "encoding": {"x": {"datum": 82.6}, "y": {"datum": 14010}, "text": {"field": "word"}}
        },
        {
          "mark": {"type": "rule", "color": "black", "strokeWidth": 1},
          "encoding": {"y": {"datum": 0}}
        },
        {
          "data": {"name": "chips"},
          "mark": {"type": "line", "strokeWidth": 2, "clip": true},
          "encoding": {
            "x": {
              "field": "tournament", "type": "quantitative", "title": "Tournaments Played",
              "scale": {"domain": [-0.6, 168.6], "nice": false, "zero": false},
              "axis": {"grid": true, "tickCount": 40, "values": [1, 7, 13, 19, 25, 31, 37, 43, 49, 55, 61, 67, 73, 79, 85, 91, 97, 103, 109, 115, 121, 127, 133, 139, 145, 151, 157, 163, 168], "labelPadding": 3, "titlePadding": 5, "titleAnchor": "middle"}
            },
            "y": {
              "field": "chips", "type": "quantitative", "title": "#",
              "scale": {"domain": [-12000, 18000], "nice": false, "zero": false},
              "axis": {"grid": true, "orient": "right", "tickCount": 20, "values": [-12000, -10000, -8000, -6000, -4000, -2000, 0, 2000, 4000, 6000, 8000, 10000, 12000, 14000, 16000, 18000], "labelExpr": "replace(format(datum.value, ','), '\u2212', '-')", "labelPadding": 3, "titlePadding": 7}
            },
            "color": {
              "field": "series", "type": "nominal",
              "scale": {"domain": ["Chips Won", "Net Expected Chips Won", "Chips Won With Showdown", "Chips Won Without Showdown"], "range": ["#1a9a1a", "#a8a814", "#14149a", "#a01010"]},
              "legend": {
                "orient": "none", "legendX": 0, "legendY": 523, "direction": "horizontal", "title": null,
                "symbolType": "square", "symbolSize": 90, "labelFont": "Liberation Sans", "labelFontSize": 12, "labelColor": "black", "labelLimit": 400,
                "columnPadding": 25, "labelOffset": 4, "padding": 10, "strokeColor": "black", "fillColor": "white",
                "encode": {"symbols": {"update": {"fill": {"scale": "color", "field": "value"}, "stroke": {"value": "#555555"}, "strokeWidth": {"value": 1}, "opacity": {"value": 1}}}}
              }
            }
          }
        },
        {
          "mark": {"type": "rect", "fill": "white", "fillOpacity": 0.5, "stroke": "#808080", "strokeWidth": 1},
          "encoding": {"x": {"datum": -0.6}, "x2": {"datum": 34.3}, "y": {"datum": 18000}, "y2": {"datum": -7220}}
        }
      ]
    },
    {
      "data": {"name": "notes"},
      "mark": {"type": "text", "align": "left", "baseline": "middle", "font": "Open Sans", "fontSize": 11.5, "color": "#858585"},
      "encoding": {
        "x": {"datum": 0.1},
        "y": {"field": "line", "type": "quantitative", "scale": {"domain": [0.4, 24.7], "reverse": true, "nice": false, "zero": false}, "axis": null},
        "text": {"field": "text"}
      }
    }
  ],
  "resolve": {"scale": {"y": "independent"}}
}
